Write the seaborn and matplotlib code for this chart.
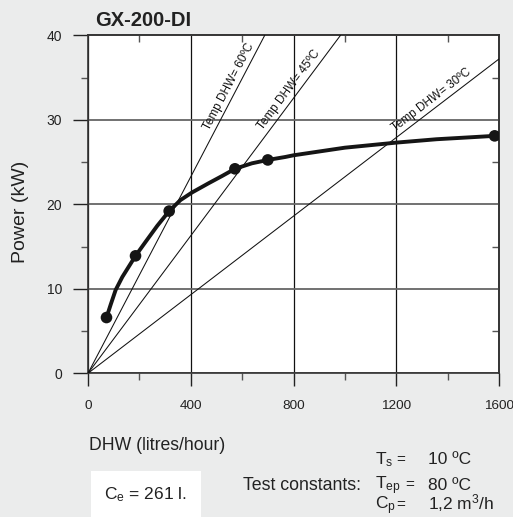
import numpy as np
import matplotlib
matplotlib.use("Agg")
import matplotlib.pyplot as plt
import seaborn as sns
from matplotlib.patches import Rectangle
from matplotlib.ticker import FixedLocator, NullLocator, NullFormatter

# ---------------- data ----------------
marker_flow = [72, 185, 316, 572, 700, 1583]
marker_power = [6.6, 13.9, 19.2, 24.2, 25.25, 28.1]

curve_flow = [72, 88, 107.6, 133.6, 185, 224, 269.5, 316, 360, 405, 470, 522, 572,
              638, 700, 768, 800, 1000, 1200, 1357, 1500, 1583]
curve_power = [6.6, 8.1, 9.86, 11.4, 13.9, 15.55, 17.45, 19.2, 20.5, 21.4, 22.5, 23.35, 24.2,
               24.85, 25.25, 25.6, 25.8, 26.7, 27.3, 27.7, 27.95, 28.1]

temp_labels = ["Temp DHW= 30ºC", "Temp DHW= 45ºC", "Temp DHW= 60ºC"]
line_end_flow = [1600, 983, 688]
line_end_power = [37.2, 40, 40]

x_ticks = [0, 400, 800, 1200, 1600]
y_ticks = [0, 10, 20, 30, 40]
x_minor = [200, 600, 1000, 1400]
y_minor = [5, 15, 25, 35]

title = "GX-200-DI"
y_label = "Power (kW)"
x_label = "DHW (litres/hour)"
const_title = "Test constants:"
const_symbols = [r"T$_\mathrm{s}$", r"T$_\mathrm{ep}$", r"C$_\mathrm{p}$"]
const_values = ["10 ºC", "80 ºC", r"1,2 m$^\mathrm{3}$/h"]
ce_text = r"C$_\mathrm{e}$ = 261 l."

# ---------------- style ----------------
sns.set_style("white")
plt.rcParams["font.family"] = ["Liberation Sans", "DejaVu Sans"]
plt.rcParams["mathtext.fontset"] = "custom"
plt.rcParams["mathtext.rm"] = "Liberation Sans"
plt.rcParams["mathtext.it"] = "Liberation Sans:italic"
plt.rcParams["mathtext.bf"] = "Liberation Sans:bold"

W, H = 513, 517
BG = "#ebecec"
fig = plt.figure(figsize=(W / 100, H / 100), dpi=100, facecolor=BG)


def fx(x):
    return x / W


def fy(y):
    return 1 - y / H


ax_left, ax_right, ax_top, ax_bottom = 88, 499, 35.3, 373.3
ax = fig.add_axes([fx(ax_left), fy(ax_bottom), (ax_right - ax_left) / W, (ax_bottom - ax_top) / H])
ax.set_facecolor("white")
ax.set_xlim(0, 1600)
ax.set_ylim(0, 40)

# grid
ax.set_axisbelow(True)
ax.xaxis.set_major_locator(FixedLocator(x_ticks))
ax.yaxis.set_major_locator(FixedLocator(y_ticks))
ax.xaxis.set_minor_locator(FixedLocator(x_minor))
ax.yaxis.set_minor_locator(FixedLocator(y_minor))
ax.xaxis.grid(True, which="major", color="#111111", lw=0.9)
ax.yaxis.grid(True, which="major", color="#666666", lw=1.3)

for s in ax.spines.values():
    s.set_color("#333333")
    s.set_linewidth(1.2)
    s.set_visible(True)

ax.tick_params(axis="x", which="major", direction="out", length=9.6, width=1.0,
               color="#222222", pad=9.3, labelsize=9.7, labelcolor="#222222", top=False, bottom=True)
ax.tick_params(axis="x", which="minor", direction="out", length=5, width=1.0,
               color="#555555", top=False, bottom=True)
ax.tick_params(axis="y", which="major", direction="out", length=11, width=1.0,
               color="#222222", pad=7.5, labelsize=10, labelcolor="#222222", right=False, left=True)
ax.tick_params(axis="y", which="minor", direction="out", length=5, width=1.0,
               color="#555555", right=False, left=True)

# top/right inward minor ticks
secx = ax.secondary_xaxis("top")
secx.xaxis.set_major_locator(NullLocator())
secx.xaxis.set_minor_locator(FixedLocator(x_minor))
secx.xaxis.set_minor_formatter(NullFormatter())
secx.tick_params(which="minor", direction="in", length=5, width=1.0, color="#555555")
secx.spines["top"].set_color("#333333")
secx.spines["top"].set_linewidth(1.2)

secy = ax.secondary_yaxis("right")
secy.yaxis.set_major_locator(NullLocator())
secy.yaxis.set_minor_locator(FixedLocator(y_minor))
secy.yaxis.set_minor_formatter(NullFormatter())
secy.tick_params(which="minor", direction="in", length=5, width=1.0, color="#555555")
secy.spines["right"].set_color("#333333")
secy.spines["right"].set_linewidth(1.2)

# temperature lines
for ex, ey in zip(line_end_flow, line_end_power):
    sns.lineplot(x=[0, ex], y=[0, ey], color="#111111", lw=0.75, ax=ax, zorder=3)

# power curve
sns.lineplot(x=curve_flow, y=curve_power, color="#151515", lw=2.8, ax=ax, zorder=4, sort=False,
             solid_joinstyle="round", solid_capstyle="round")
sns.scatterplot(x=marker_flow, y=marker_power, color="#151515", s=70, edgecolor="none", ax=ax, zorder=5)

ax.set_xlabel("")
ax.set_ylabel(y_label, fontsize=14, color="#222222")
ax.yaxis.set_label_coords((28.5 - ax_left) / (ax_right - ax_left),
                          (ax_bottom - 211.5) / (ax_bottom - ax_top))

# line labels
label_frac = [0.849, 0.823, 0.837]
for lab, ex, ey, fr in zip(temp_labels, line_end_flow, line_end_power, label_frac):
    p0 = ax.transData.transform((0, 0))
    p1 = ax.transData.transform((ex, ey))
    ang = np.degrees(np.arctan2(p1[1] - p0[1], p1[0] - p0[0]))
    nrm = np.radians(ang + 90)
    off = 6.0
    ax.annotate(lab, (ex * fr, ey * fr), xytext=(off * np.cos(nrm), off * np.sin(nrm)),
                textcoords="offset points", rotation=ang, rotation_mode="anchor",
                ha="center", va="center", fontsize=8.5, color="#111111", zorder=6)

# figure texts
fig.text(fx(95), fy(25.7), title, fontsize=14.5, fontweight="bold", color="#222222",
         ha="left", va="baseline")
fig.text(fx(89), fy(450), x_label, fontsize=12.7, color="#222222", ha="left", va="baseline")
fig.text(fx(242.7), fy(489.5), const_title, fontsize=12.8, color="#222222", ha="left", va="baseline")

row_base = [464.5, 489.5, 509.5]
eq_x = [396, 405.7, 396.7]
for sym, val, yb, ex_ in zip(const_symbols, const_values, row_base, eq_x):
    fig.text(fx(375), fy(yb), sym, fontsize=12.5, color="#222222", ha="left", va="baseline")
    fig.text(fx(ex_), fy(yb), "=", fontsize=11, color="#222222", ha="left", va="baseline")
    fig.text(fx(428.3), fy(yb), val, fontsize=12.5, color="#222222", ha="left", va="baseline")

fig.add_artist(Rectangle((fx(91), 0), 110 / W, 46 / H, transform=fig.transFigure,
                         facecolor="white", edgecolor="none"))
fig.text(fx(104), fy(499), ce_text, fontsize=12.5, color="#222222", ha="left", va="baseline")

fig.savefig("out.png", dpi=100, facecolor=BG)
